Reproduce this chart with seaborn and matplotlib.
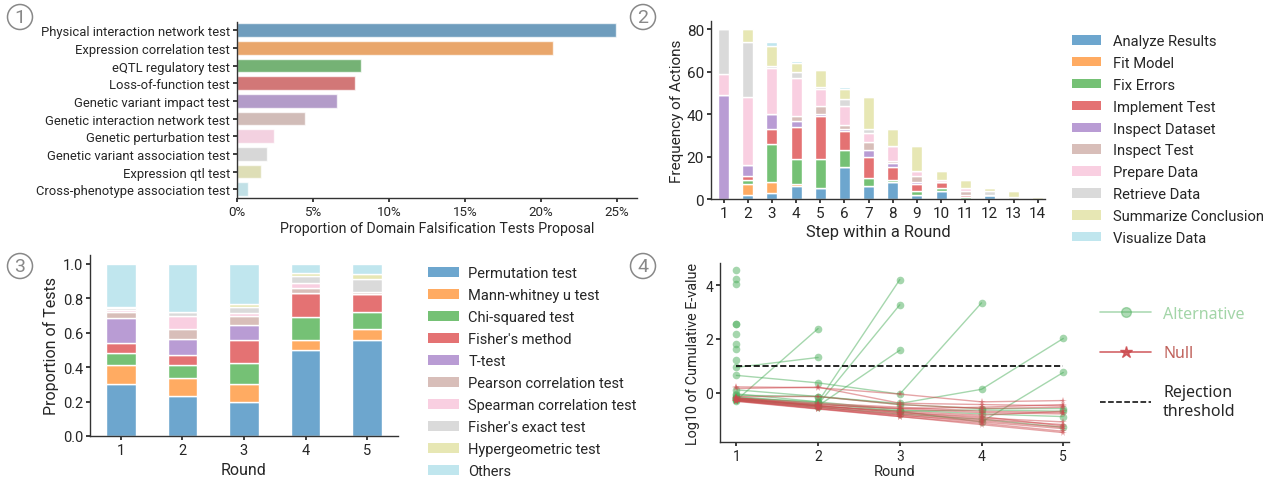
import matplotlib
matplotlib.use("Agg")
import matplotlib.pyplot as plt
from matplotlib.patches import Patch
from matplotlib.lines import Line2D
import numpy as np
import pandas as pd
import seaborn as sns

# ---- data: panel 1 (domain falsification tests) ----
test_names = [
    "Physical interaction network test", "Expression correlation test",
    "eQTL regulatory test", "Loss-of-function test", "Genetic variant impact test",
    "Genetic interaction network test", "Genetic perturbation test",
    "Genetic variant association test", "Expression qtl test",
    "Cross-phenotype association test",
]
test_props = [24.9, 20.8, 8.15, 7.75, 6.55, 4.45, 2.4, 2.0, 1.6, 0.75]

# ---- data: panel 2 (actions per step) ----
actions = ["Analyze Results", "Fit Model", "Fix Errors", "Implement Test",
           "Inspect Dataset", "Inspect Test", "Prepare Data", "Retrieve Data",
           "Summarize Conclusion", "Visualize Data"]
steps = list(range(1, 15))
analyze_results = [0, 2, 3, 6, 5, 15, 6, 8, 2, 4, 0, 2, 0, 0]
fit_model = [0, 5, 5, 1, 0, 0, 0, 0, 0, 0, 0, 0, 0, 0]
fix_errors = [0, 2, 18, 12, 14, 8, 4, 1, 2, 1, 1, 0, 0, 0]
implement_test = [0, 2, 7, 15, 20, 9, 10, 6, 3, 3, 1, 0, 0, 0]
inspect_dataset = [49, 5, 7, 3, 1, 1, 3, 2, 1, 0, 0, 0, 0, 0]
inspect_test = [0, 0, 0, 2, 4, 2, 4, 1, 3, 0, 2, 0, 0, 0]
prepare_data = [10, 32, 22, 18, 8, 9, 4, 7, 2, 1, 1, 0, 0, 0]
retrieve_data = [21, 26, 1, 3, 1, 3, 2, 0, 0, 0, 0, 2, 1, 0]
summarize_conclusion = [0, 6, 9, 4, 8, 5, 15, 8, 12, 4, 4, 1, 3, 1]
visualize_data = [0, 0, 2, 1, 0, 1, 0, 0, 0, 0, 0, 0, 0, 0]
action_counts = [analyze_results, fit_model, fix_errors, implement_test,
                 inspect_dataset, inspect_test, prepare_data, retrieve_data,
                 summarize_conclusion, visualize_data]

# ---- data: panel 3 (statistical tests per round) ----
stat_tests = ["Permutation test", "Mann-whitney u test", "Chi-squared test",
              "Fisher's method", "T-test", "Pearson correlation test",
              "Spearman correlation test", "Fisher's exact test",
              "Hypergeometric test", "Others"]
rounds = [1, 2, 3, 4, 5]
permutation = [0.30, 0.23, 0.20, 0.50, 0.557]
mann_whitney = [0.11, 0.107, 0.10, 0.056, 0.063]
chi_squared = [0.07, 0.074, 0.125, 0.136, 0.097]
fisher_method = [0.06, 0.057, 0.13, 0.136, 0.108]
t_test = [0.145, 0.095, 0.087, 0.0, 0.0]
pearson = [0.035, 0.055, 0.053, 0.03, 0.01]
spearman = [0.01, 0.08, 0.019, 0.029, 0.0]
fisher_exact = [0.012, 0.019, 0.035, 0.041, 0.077]
hypergeometric = [0.008, 0.0, 0.016, 0.017, 0.03]
others = [0.25, 0.283, 0.235, 0.055, 0.058]
test_shares = [permutation, mann_whitney, chi_squared, fisher_method, t_test,
               pearson, spearman, fisher_exact, hypergeometric, others]

# ---- data: panel 4 (log10 cumulative e-values, runs stop after rejection) ----
alt_runs = [
    [4.56], [4.25], [4.05], [2.56], [2.56], [2.18], [1.81], [1.64], [1.21],
    [0.94, 1.31],
    [-0.29, 2.39],
    [0.64, 0.36, -0.06, 3.35],
    [-0.05, -0.35, 4.22],
    [-0.2, -0.45, 3.28],
    [-0.25, -0.5, 1.58],
    [0.1, -0.15, -0.41, 0.12, 2.02],
    [-0.15, -0.4, -0.7, -1.1, 0.75],
    [-0.1, -0.15, -0.45, -0.6, -0.6],
    [-0.2, -0.35, -0.65, -0.8, -0.9],
    [-0.3, -0.55, -0.8, -1.0, -1.3],
    [-0.25, -0.5, -0.7, -0.65, -0.7],
]
null_runs = [
    [0.21, 0.18, -0.06, -0.35, -0.3],
    [0.15, 0.2, -0.4, -0.45, -0.5],
    [-0.15, -0.15, -0.45, -0.6, -0.55],
    [-0.2, -0.4, -0.55, -0.7, -0.75],
    [-0.22, -0.45, -0.6, -0.75, -0.8],
    [-0.25, -0.5, -0.7, -0.85, -0.7],
    [-0.27, -0.5, -0.75, -0.95, -1.1],
    [-0.28, -0.55, -0.8, -1.0, -1.2],
    [-0.3, -0.55, -0.85, -1.05, -1.3],
    [-0.3, -0.6, -0.85, -1.1, -1.35],
    [-0.32, -0.6, -0.9, -1.15, -1.45],
    [-0.25, -0.45, -0.6, -0.55, -0.45],
    [-0.2, -0.5, -0.75, -0.9, -1.25],
    [-0.33, -0.62, -0.9, -1.2, -1.5],
]
threshold = 1.0

# ---- style ----
sns.set_theme(style="ticks")
plt.rcParams["font.family"] = ["Roboto", "DejaVu Sans"]
plt.rcParams["axes.edgecolor"] = "#333333"
plt.rcParams["axes.linewidth"] = 1.0

colors = ["#1f77b4", "#ff7f0e", "#2ca02c", "#d62728", "#9467bd",
          "#c49c94", "#f7b6d2", "#c7c7c7", "#dbdb8d", "#9edae5"]

W, H = 1269, 481
fig = plt.figure(figsize=(W / 100, H / 100), dpi=100)


def px_axes(l, t, r, b):
    return fig.add_axes([l / W, 1 - b / H, (r - l) / W, (b - t) / H])


def circled(x, y, s):
    fig.text(x / W, 1 - y / H, s, ha="center", va="center", fontsize=14,
             color="#888888",
             bbox=dict(boxstyle="circle,pad=0.18", fc="none", ec="#888888", lw=1.1))


# ---- panel 1 ----
ax1 = px_axes(237, 23, 637, 199)
df1 = pd.DataFrame({"test": test_names, "prop": test_props})
sns.barplot(data=df1, x="prop", y="test", hue="test", palette=colors,
            legend=False, ax=ax1, width=0.78, alpha=0.7,
            edgecolor="white", linewidth=1)
ax1.set_xlim(0, 26.3)
ax1.set_ylim(9.5, -0.47)
ax1.set_xticks([0, 5, 10, 15, 20, 25])
ax1.set_xticklabels([f"{v}%" for v in [0, 5, 10, 15, 20, 25]])
ax1.set_xlabel("Proportion of Domain Falsification Tests Proposal", fontsize=10.2, labelpad=2)
ax1.set_ylabel("")
ax1.tick_params(axis="y", labelsize=9.4, length=3, pad=2)
ax1.tick_params(axis="x", labelsize=9.6, length=3, pad=2)
sns.despine(ax=ax1)

# ---- panel 2 ----
ax2 = px_axes(711, 22, 1045, 200)
rows = []
for name, vals in zip(actions, action_counts):
    for s, v in zip(steps, vals):
        rows.append({"step": s, "action": name, "count": v})
df2 = pd.DataFrame(rows)
pal2 = dict(zip(actions, colors))
sns.histplot(data=df2, x="step", weights="count", hue="action",
             hue_order=actions[::-1], multiple="stack", discrete=True,
             shrink=0.46, palette=pal2, alpha=0.65, edgecolor="white",
             linewidth=1, legend=False, ax=ax2)
ax2.set_xlim(0.48, 14.3)
ax2.set_ylim(0, 84)
ax2.set_xticks(steps)
ax2.set_yticks([0, 20, 40, 60, 80])
ax2.set_xlabel("Step within a Round", fontsize=11.8, labelpad=3)
ax2.set_ylabel("Frequency of Actions", fontsize=11, labelpad=2)
ax2.tick_params(labelsize=11, length=3, pad=2)
sns.despine(ax=ax2)
h2 = [Patch(facecolor=c, alpha=0.65, edgecolor="none") for c in colors]
fig.legend(h2, actions, loc="upper left", bbox_to_anchor=(1072 / W, 1 - 35 / H),
           frameon=False, fontsize=10.6, handlelength=2.0, handleheight=0.62,
           handletextpad=0.8, labelspacing=0.535, borderpad=0, borderaxespad=0)

# ---- panel 3 ----
ax3 = px_axes(90, 256, 398, 437)
rows = []
for name, vals in zip(stat_tests, test_shares):
    for r, v in zip(rounds, vals):
        rows.append({"round": r, "test": name, "share": v})
df3 = pd.DataFrame(rows)
pal3 = dict(zip(stat_tests, colors))
sns.histplot(data=df3, x="round", weights="share", hue="test",
             hue_order=stat_tests[::-1], multiple="stack", discrete=True,
             shrink=0.48, palette=pal3, alpha=0.65, edgecolor="white",
             linewidth=1, legend=False, ax=ax3)
ax3.set_xlim(0.5, 5.5)
ax3.set_ylim(0, 1.05)
ax3.set_xticks(rounds)
ax3.set_yticks([0, 0.2, 0.4, 0.6, 0.8, 1.0])
ax3.set_xlabel("Round", fontsize=11.5, labelpad=4)
ax3.set_ylabel("Proportion of Tests", fontsize=11.5, labelpad=3)
ax3.tick_params(labelsize=10.5, length=3, pad=2)
sns.despine(ax=ax3)
h3 = [Patch(facecolor=c, alpha=0.65, edgecolor="none") for c in colors]
fig.legend(h3, stat_tests, loc="upper left", bbox_to_anchor=(428 / W, 1 - 267 / H),
           frameon=False, fontsize=10.5, handlelength=2.1, handleheight=0.65,
           handletextpad=0.65, labelspacing=0.55, borderpad=0, borderaxespad=0)

# ---- panel 4 ----
ax4 = px_axes(720, 264, 1069, 443)
rows = []
for i, run in enumerate(alt_runs):
    for r, v in enumerate(run, start=1):
        rows.append({"run": f"a{i}", "round": r, "value": v, "group": "Alternative"})
for i, run in enumerate(null_runs):
    for r, v in enumerate(run, start=1):
        rows.append({"run": f"n{i}", "round": r, "value": v, "group": "Null"})
df4 = pd.DataFrame(rows)
green, red = "#4caf5c", "#cc4a4e"
sns.lineplot(data=df4, x="round", y="value", units="run", estimator=None,
             hue="group", style="group", hue_order=["Alternative", "Null"],
             palette={"Alternative": green, "Null": red},
             markers={"Alternative": "o", "Null": "*"}, dashes=False,
             markersize=5.5, markeredgewidth=0, linewidth=1, alpha=0.5,
             legend=False, ax=ax4)
ax4.plot([1, 5], [threshold, threshold], ls="--", color="black", lw=1.2)
ax4.set_xlim(0.8, 5.07)
ax4.set_ylim(-1.85, 4.84)
ax4.set_xticks(rounds)
ax4.set_yticks([0, 2, 4])
ax4.set_xlabel("Round", fontsize=10.5, labelpad=1)
ax4.set_ylabel("Log10 of Cumulative E-value", fontsize=10.4, labelpad=4)
ax4.tick_params(labelsize=10, length=3, pad=2)
sns.despine(ax=ax4)
h4 = [Line2D([], [], color=green, alpha=0.45, marker="o", markersize=7, lw=1.2),
      Line2D([], [], color=red, alpha=0.85, marker="*", markersize=9, lw=1.2),
      Line2D([], [], color="black", ls="--", lw=1.1)]
leg4 = fig.legend(h4, ["Alternative", "Null", "Rejection\nthreshold"],
                  loc="upper left", bbox_to_anchor=(1100 / W, 1 - 307 / H),
                  frameon=False, handlelength=3.2,
                  handletextpad=0.75, labelspacing=1.45, borderpad=0,
                  borderaxespad=0, prop={"family": ["Noto Sans", "DejaVu Sans"], "size": 11.5})
leg4.get_texts()[0].set_color("#a3d5a8")
leg4.get_texts()[1].set_color("#c0625c")

# ---- panel markers ----
circled(20, 18, "1")
circled(643, 18, "2")
circled(20, 267, "3")
circled(643, 267, "4")

fig.savefig("out.png", dpi=100)
